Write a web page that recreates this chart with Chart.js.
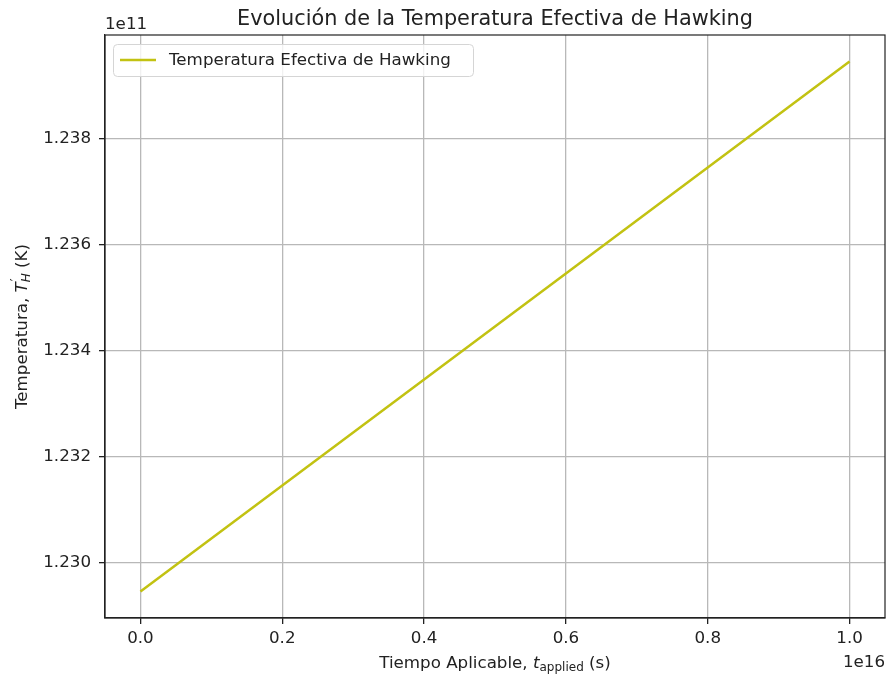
<!DOCTYPE html>
<html>
<head>
<meta charset="utf-8">
<script src="https://cdn.jsdelivr.net/npm/chart.js@4"></script>
<style>
  html, body { margin: 0; padding: 0; background: #fff; }
  #wrap { width: 886px; height: 681px; }
</style>
</head>
<body>
<div id="wrap"><canvas id="chart"></canvas></div>
<script>
// data
const timeValues = [0, 1.0e16];                 // t_applied (s)
const tempValues = [1.22945e11, 1.23945e11];    // T'_H (K)
const xTickValues = [0, 0.2e16, 0.4e16, 0.6e16, 0.8e16, 1.0e16];
const yTickValues = [1.230e11, 1.232e11, 1.234e11, 1.236e11, 1.238e11];
const seriesLabel = 'Temperatura Efectiva de Hawking';

const FONT = '"DejaVu Sans", sans-serif';
const lineColor = '#c2c212';
const FS = 16.7;

// draw a run of text pieces (for the math-ish labels)
function drawRich(ctx, parts, x, y) {
  let total = 0;
  parts.forEach(p => { ctx.font = p.font; if (!p.noAdvance) total += ctx.measureText(p.text).width; });
  let cx = x - total / 2;
  ctx.textAlign = 'left';
  ctx.textBaseline = 'alphabetic';
  parts.forEach(p => {
    ctx.font = p.font;
    ctx.fillText(p.text, cx + (p.dx || 0), y + (p.dy || 0));
    if (!p.noAdvance) cx += ctx.measureText(p.text).width;
  });
}

const decorations = {
  id: 'decorations',
  afterDraw(chart) {
    const ctx = chart.ctx;
    const a = chart.chartArea;
    ctx.save();
    ctx.fillStyle = '#222';

    // spines on top / right
    ctx.strokeStyle = '#222';
    ctx.lineWidth = 1.2;
    ctx.strokeRect(a.left, a.top, a.right - a.left, a.bottom - a.top);

    // title
    ctx.font = '20.8px ' + FONT;
    ctx.textAlign = 'center';
    ctx.textBaseline = 'alphabetic';
    ctx.fillText('Evolución de la Temperatura Efectiva de Hawking', (a.left + a.right) / 2, 25);

    // offset texts
    ctx.font = FS + 'px ' + FONT;
    ctx.textAlign = 'left';
    ctx.fillText('1e11', a.left, 29);
    ctx.textAlign = 'right';
    ctx.fillText('1e16', a.right, 667);

    // x label
    drawRich(ctx, [
      { text: 'Tiempo Aplicable, ', font: FS + 'px ' + FONT },
      { text: 't', font: 'italic ' + FS + 'px ' + FONT },
      { text: 'applied', font: '12px ' + FONT, dy: 3 },
      { text: ' (s)', font: FS + 'px ' + FONT }
    ], (a.left + a.right) / 2, 668);

    // y label (rotated)
    ctx.save();
    ctx.translate(27, (a.top + a.bottom) / 2);
    ctx.rotate(-Math.PI / 2);
    drawRich(ctx, [
      { text: 'Temperatura, ', font: FS + 'px ' + FONT },
      { text: 'T', font: 'italic ' + FS + 'px ' + FONT },
      { text: '\u2032', font: '12px ' + FONT, dy: -8, dx: 1, noAdvance: true },
      { text: 'H', font: 'italic 12px ' + FONT, dy: 3 },
      { text: ' (K)', font: FS + 'px ' + FONT }
    ], 0, 0);
    ctx.restore();

    // legend
    const lx = a.left + 8, ly = a.top + 9, lw = 360, lh = 32;
    ctx.fillStyle = 'rgba(255,255,255,0.8)';
    ctx.strokeStyle = '#d5d5d5';
    ctx.lineWidth = 1;
    ctx.beginPath();
    ctx.roundRect(lx + 0.5, ly + 0.5, lw, lh, 4);
    ctx.fill();
    ctx.stroke();
    ctx.strokeStyle = lineColor;
    ctx.lineWidth = 2.5;
    ctx.beginPath();
    ctx.moveTo(lx + 7, ly + 16);
    ctx.lineTo(lx + 43, ly + 16);
    ctx.stroke();
    ctx.fillStyle = '#222';
    ctx.font = FS + 'px ' + FONT;
    ctx.textAlign = 'left';
    ctx.textBaseline = 'middle';
    ctx.fillText(seriesLabel, lx + 56, ly + 17);

    ctx.restore();
  }
};

new Chart(document.getElementById('chart'), {
  type: 'line',
  data: {
    datasets: [{
      label: seriesLabel,
      data: timeValues.map((t, i) => ({ x: t, y: tempValues[i] })),
      borderColor: lineColor,
      borderWidth: 2.5,
      pointRadius: 0,
      fill: false,
      tension: 0
    }]
  },
  options: {
    responsive: true,
    maintainAspectRatio: false,
    animation: false,
    layout: { padding: { left: 0, right: 1, top: 35, bottom: 0 } },
    plugins: {
      legend: { display: false },
      title: { display: false },
      tooltip: { enabled: false }
    },
    scales: {
      x: {
        type: 'linear',
        min: -0.05e16,
        max: 1.05e16,
        afterBuildTicks: s => { s.ticks = xTickValues.map(v => ({ value: v })); },
        afterFit: s => { s.height = 63; },
        ticks: {
          callback: v => (v / 1e16).toFixed(1),
          font: { family: 'DejaVu Sans', size: FS },
          color: '#222',
          padding: 5,
          maxRotation: 0
        },
        grid: { color: '#b8b8b8', lineWidth: 1.3, tickLength: 6, tickColor: '#222' },
        border: { color: '#222', width: 1.2 }
      },
      y: {
        type: 'linear',
        min: 1.22895e11,
        max: 1.23995e11,
        afterBuildTicks: s => { s.ticks = yTickValues.map(v => ({ value: v })); },
        afterFit: s => { s.width = 105; },
        ticks: {
          callback: v => (v / 1e11).toFixed(3),
          font: { family: 'DejaVu Sans', size: FS },
          color: '#222',
          padding: 8
        },
        grid: { color: '#b8b8b8', lineWidth: 1.3, tickLength: 6, tickColor: '#222' },
        border: { color: '#222', width: 1.2 }
      }
    }
  },
  plugins: [decorations]
});
</script>
</body>
</html>
